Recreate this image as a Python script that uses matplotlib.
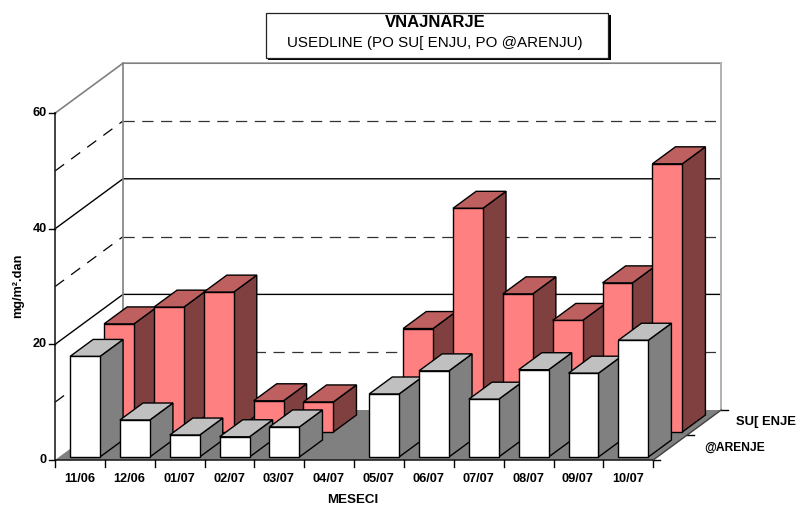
import matplotlib
matplotlib.use("Agg")
import matplotlib.pyplot as plt
from matplotlib.patches import Polygon, Rectangle

plt.rcParams['font.family'] = ['Liberation Sans', 'DejaVu Sans']

months = ['11/06', '12/06', '01/07', '02/07', '03/07', '04/07',
          '05/07', '06/07', '07/07', '08/07', '09/07', '10/07']
zarenje = [17.4, 6.4, 3.8, 3.5, 5.2, 0, 10.9, 14.9, 10.0, 15.1, 14.5, 20.2]
suvenje = [18.7, 21.6, 24.2, 5.4, 5.2, 0, 17.9, 38.7, 23.9, 19.3, 25.8, 46.4]
series_names = ['@ARENJE', 'SU[ ENJE']
major = [0, 20, 40, 60]
minor = [10, 30, 50]

# pixels of the fake 3d box
X0, Y0 = 55, 460
CW = 49.85
VS = 5.78
DX, DY = 34, 25

def pr(c, z, v):
    return (X0 + c*CW + z*DX, Y0 - v*VS - z*DY)

fig = plt.figure(figsize=(7.96, 5.07), dpi=100)
ax = fig.add_axes([0, 0, 1, 1])
ax.set_xlim(0, 796)
ax.set_ylim(507, 0)
ax.axis('off')

N = len(months)

# floor
ax.add_patch(Polygon([pr(0, 0, 0), pr(N, 0, 0), pr(N, 2, 0), pr(0, 2, 0)],
                     fc='#808080', ec='none', zorder=1))

# walls and grid
for v in major[1:-1]:
    ax.plot(*zip(pr(0, 0, v), pr(0, 2, v), pr(N, 2, v)), color='black', lw=1, zorder=2)
for v in minor:
    ax.plot(*zip(pr(0, 0, v), pr(0, 2, v)), color='black', lw=0.9, ls=(0, (9, 7)), zorder=2)
    ax.plot(*zip(pr(0, 2, v), pr(N-0.1, 2, v)), color='#333333', lw=0.9, ls=(0, (9, 6)), zorder=2)
ax.plot(*zip(pr(0, 0, 60), pr(0, 2, 60), pr(N, 2, 60)), color='#808080', lw=1.2, zorder=2)
ax.plot(*zip(pr(N, 2, 60), pr(N, 2, 0)), color='#b0b0b0', lw=1.4, zorder=2)
ax.plot(*zip(pr(0, 2, 60), pr(0, 2, 0)), color='#808080', lw=1.2, zorder=2)
ax.plot(*zip(pr(0, 0, 60), pr(0, 0, 0), pr(N, 0, 0)), color='#222222', lw=1.2, zorder=9)

# axis ticks
for v in major:
    x, y = pr(0, 0, v)
    ax.plot([x-6, x], [y, y], color='black', lw=1, zorder=9)
    ax.text(x-8, y, str(v), ha='right', va='center', fontsize=9.1, fontweight='bold')
for i in range(N+1):
    x, y = pr(i, 0, 0)
    ax.plot([x, x], [y, y+7], color='black', lw=1, zorder=9)
for i, m in enumerate(months):
    x, y = pr(i+0.5, 0, 0)
    ax.text(x-0.5, y+18.5, m, ha='center', va='center', fontsize=9.2, fontweight='bold')
for z in [0, 1, 2]:
    x, y = pr(N, z, 0)
    ax.plot([x, x+7], [y, y], color='black', lw=1, zorder=9)
ax.plot(*zip(pr(N, 0, 0), pr(N, 2, 0)), color='#404040', lw=1, zorder=9)

# bars
def bar(c, z, v, cf, ct, cs, zo):
    c0, c1 = c+0.22, c+0.82
    z0, z1 = z+0.12, z+0.80
    ax.add_patch(Polygon([pr(c1, z0, 0), pr(c1, z1, 0), pr(c1, z1, v), pr(c1, z0, v)],
                         fc=cs, ec='black', lw=1, zorder=zo))
    ax.add_patch(Polygon([pr(c0, z0, v), pr(c1, z0, v), pr(c1, z1, v), pr(c0, z1, v)],
                         fc=ct, ec='black', lw=1, zorder=zo))
    ax.add_patch(Polygon([pr(c0, z0, 0), pr(c1, z0, 0), pr(c1, z0, v), pr(c0, z0, v)],
                         fc=cf, ec='black', lw=1, zorder=zo))

for i, v in enumerate(suvenje):
    if v > 0:
        bar(i, 1, v, '#ff8080', '#bf6060', '#804040', 3 + i*0.01)
for i, v in enumerate(zarenje):
    if v > 0:
        bar(i, 0, v, 'white', '#c0c0c0', '#808080', 5 + i*0.01)

# series names
x, y = pr(N, 1.5, 0)
ax.text(x+32, y-1, series_names[1], ha='left', va='center', fontsize=9.4, fontweight='bold')
x, y = pr(N, 0.5, 0)
ax.text(x+34, y, series_names[0], ha='left', va='center', fontsize=8.7, fontweight='bold')

# labels
ax.text(353, 500, 'MESECI', ha='center', va='center', fontsize=9.6, fontweight='bold')
ax.text(18, 286, 'mg/m².dan', rotation=90, ha='center', va='center', fontsize=9.2, fontweight='bold')

# title box
ax.add_patch(Rectangle((268, 15), 343, 45, fc='black', ec='none', zorder=10))
ax.add_patch(Rectangle((265.5, 12.5), 342, 45, fc='white', ec='#222222', lw=0.9, zorder=11))
ax.text(435, 22.5, 'VNAJNARJE', ha='center', va='center', fontsize=12, fontweight='bold', zorder=12)
ax.text(435, 43, 'USEDLINE (PO SU[ ENJU, PO @ARENJU)', ha='center', va='center', fontsize=10.9, zorder=12)

fig.savefig('out.png', dpi=100)
